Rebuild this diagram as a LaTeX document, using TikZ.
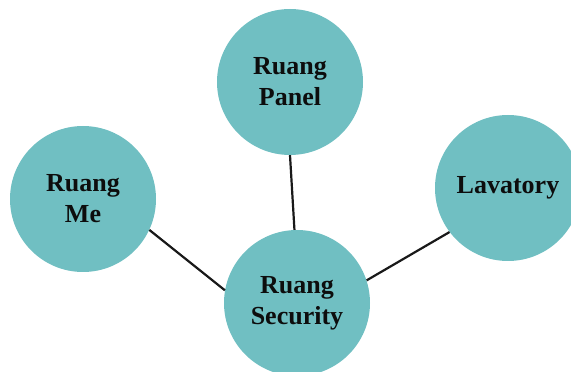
\documentclass[tikz,border=0pt]{standalone}
\usepackage{fontspec}
\setmainfont{Liberation Serif}
\definecolor{roomteal}{RGB}{112,191,194}
\begin{document}
\begin{tikzpicture}[x=1pt,y=1pt,
  room/.style={circle, fill=roomteal, draw=none, inner sep=0pt,
    minimum size=146pt, align=center,
    font=\fontsize{26}{31}\selectfont\bfseries, text=black!95},
  link/.style={draw=black!90, line width=2.2pt}]
  \useasboundingbox (0,0) rectangle (571,372);
  % rooms
  \node[room] (panel) at (290,290) {Ruang\\Panel};
  \node[room] (me)    at (83,173)  {Ruang\\Me};
  \node[room] (lav)   at (508,184) {Lavatory};
  \node[room] (sec)   at (297,69)  {Ruang\\Security};
  % connections to the security room
  \draw[link] (panel.-90) -- (sec.92);
  \draw[link] (me.-25) -- (sec.170);
  \draw[link] (lav.-143) -- (sec.18);
\end{tikzpicture}
\end{document}
